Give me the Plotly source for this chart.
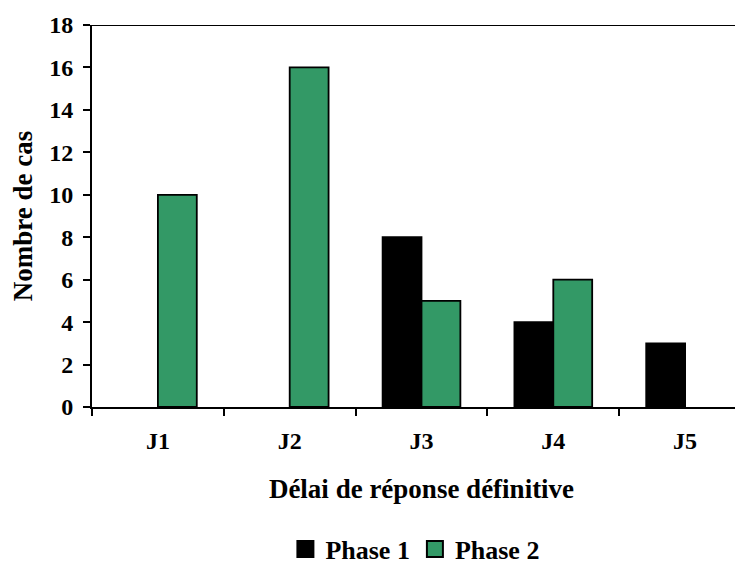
import plotly.graph_objects as go

categories = ["J1", "J2", "J3", "J4", "J5"]
phase1 = [None, None, 8, 4, 3]
phase2 = [10, 16, 5, 6, None]
series_names = ["Phase 1", "Phase 2"]
series_colors = ["#000000", "#339966"]
y_ticks = [0, 2, 4, 6, 8, 10, 12, 14, 16, 18]

FONT = "Liberation Serif, Times New Roman, serif"

def f(size):
    return dict(family=FONT, size=size, color="black", weight="bold")

fig = go.Figure()
for name, vals, col in zip(series_names, [phase1, phase2], series_colors):
    fig.add_trace(go.Bar(x=categories, y=vals, name=name, legendgroup=name, showlegend=False,
                         marker=dict(color=col, line=dict(color="#000000", width=1.8))))
# legend entries with larger square symbols
for name, col in zip(series_names, series_colors):
    fig.add_trace(go.Scatter(x=[None], y=[None], mode="markers", name=name, legendgroup=name,
                             marker=dict(symbol="square", size=16, color=col,
                                         line=dict(color="#000000", width=2))))

fig.update_layout(
    width=743, height=564,
    margin=dict(l=84, r=0, t=17, b=165, autoexpand=False),
    paper_bgcolor="white", plot_bgcolor="white",
    barmode="group", bargap=0.41, bargroupgap=0,
    font=f(24),
    showlegend=True,
    legend=dict(orientation="h", x=0.49, xanchor="center", xref="paper",
                y=(564 - 541) / 564, yanchor="middle", yref="container",
                font=f(26), traceorder="normal", itemwidth=30, itemsizing="trace"),
)
fig.update_xaxes(
    type="category", range=[-0.5, 4.5], automargin=False,
    showline=True, linecolor="black", linewidth=2,
    ticks="outside", ticklen=7, tickwidth=2, tickcolor="black", tickson="boundaries",
    tickfont=f(24), ticklabelstandoff=11,
    title=dict(text="Délai de réponse définitive", font=f(27), standoff=26),
    showgrid=False, zeroline=False,
)
fig.update_yaxes(
    range=[0, 18], tickvals=y_ticks, automargin=False,
    showline=True, linecolor="black", linewidth=2,
    ticks="outside", ticklen=7, tickwidth=2, tickcolor="black",
    tickfont=f(24), ticklabelstandoff=5,
    title=dict(text="Nombre de cas", font=f(27), standoff=14),
    showgrid=False, zeroline=False,
)
# top border line at the axis maximum
fig.add_shape(type="line", xref="paper", yref="y", x0=0, x1=1, y0=y_ticks[-1], y1=y_ticks[-1],
              line=dict(color="black", width=2))

fig.write_html("out.html")
